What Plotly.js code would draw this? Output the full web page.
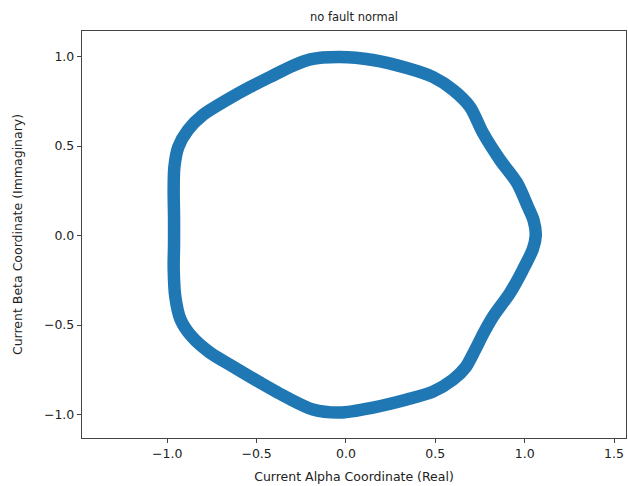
<!DOCTYPE html>
<html>
<head>
<meta charset="utf-8">
<script src="https://cdn.plot.ly/plotly-3.0.1.min.js"></script>
<style>html,body{margin:0;padding:0;background:#fff;}#chart{width:628px;height:486px;}</style>
</head>
<body>
<div id="chart"></div>
<script>
// Current trajectory (alpha, beta)
const alpha = [1.062, 1.050, 1.018, 0.957, 0.862, 0.767, 0.694, 0.599, 0.487, 0.341, 0.151, -0.034, -0.200, -0.300, -0.425, -0.537, -0.666, -0.800, -0.884, -0.938, -0.960, -0.964, -0.962, -0.962, -0.964, -0.955, -0.925, -0.862, -0.761, -0.632, -0.481, -0.330, -0.185, -0.034, 0.151, 0.341, 0.487, 0.599, 0.670, 0.722, 0.770, 0.823, 0.918, 0.990, 1.046, 1.062];
const beta = [0.000, 0.085, 0.161, 0.295, 0.423, 0.573, 0.719, 0.814, 0.886, 0.936, 0.981, 0.998, 0.985, 0.948, 0.886, 0.830, 0.758, 0.674, 0.590, 0.495, 0.384, 0.256, 0.100, -0.050, -0.180, -0.342, -0.470, -0.565, -0.654, -0.732, -0.821, -0.905, -0.972, -0.989, -0.961, -0.916, -0.872, -0.805, -0.735, -0.640, -0.545, -0.453, -0.320, -0.191, -0.075, 0.000];
const xTicks = [-1.0, -0.5, 0.0, 0.5, 1.0, 1.5];
const yTicks = [-1.0, -0.5, 0.0, 0.5, 1.0];

const font = "DejaVu Sans, sans-serif";
const trace = {
  x: alpha, y: beta, type: "scatter", mode: "lines",
  line: {color: "#1f77b4", width: 12.5, shape: "spline", smoothing: 0.8},
  hoverinfo: "skip"
};
const axisCommon = {
  showgrid: false, zeroline: false, showline: true, mirror: true,
  linecolor: "#444", linewidth: 1.2, ticks: "outside", ticklen: 4, tickwidth: 1, tickcolor: "#444",
  tickfont: {family: font, size: 12.5, color: "#222"}, tickformat: ".1f", tickmode: "array"
};
const layout = {
  width: 628, height: 486,
  margin: {l: 82, r: 2, t: 31, b: 47.5},
  paper_bgcolor: "#fff", plot_bgcolor: "#fff",
  showlegend: false,
  title: {text: "no fault normal", font: {family: font, size: 11.5, color: "#222"}, x: 0.5, xanchor: "center", xref: "paper", y: 0.965, yanchor: "middle"},
  xaxis: Object.assign({}, axisCommon, {range: [-1.477, 1.567], tickvals: xTicks,
    title: {text: "Current Alpha Coordinate (Real)", font: {family: font, size: 12.5, color: "#222"}, standoff: 12}}),
  yaxis: Object.assign({}, axisCommon, {range: [-1.131, 1.143], tickvals: yTicks,
    title: {text: "Current Beta Coordinate (Immaginary)", font: {family: font, size: 12.5, color: "#222"}, standoff: 18}})
};
Plotly.newPlot("chart", [trace], layout, {staticPlot: true, displayModeBar: false});
</script>
</body>
</html>
